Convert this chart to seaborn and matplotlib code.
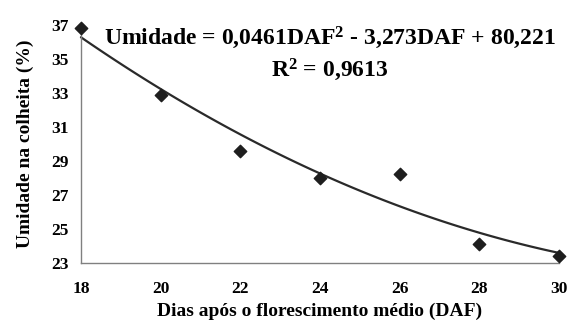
import matplotlib
matplotlib.use("Agg")
import matplotlib.pyplot as plt
import seaborn as sns
import pandas as pd

dias = [18, 20, 22, 24, 26, 28, 30]
umidade = [36.8, 32.9, 29.6, 28.0, 28.2, 24.1, 23.4]
x_ticks = [18, 20, 22, 24, 26, 28, 30]
y_ticks = [23, 25, 27, 29, 31, 33, 35, 37]
equation = r"Umidade = 0,0461DAF$^2$ - 3,273DAF + 80,221"
r2_text = r"R$^2$ = 0,9613"

sns.set_theme(style="white")
plt.rcParams['font.family'] = ['Liberation Serif', 'DejaVu Serif']
plt.rcParams['mathtext.fontset'] = 'custom'
plt.rcParams['mathtext.rm'] = 'Liberation Serif:bold'
plt.rcParams['mathtext.bf'] = 'Liberation Serif:bold'
plt.rcParams['mathtext.default'] = 'bf'
plt.rcParams['text.color'] = 'black'
plt.rcParams['axes.labelcolor'] = 'black'
plt.rcParams['xtick.color'] = 'black'
plt.rcParams['ytick.color'] = 'black'

df = pd.DataFrame({"dias": dias, "umidade": umidade})

fig = plt.figure(figsize=(5.7, 3.27), dpi=100)
ax = fig.add_axes([0.142, 0.196, 0.839, 0.728])

sns.regplot(data=df, x="dias", y="umidade", order=2, ci=None, ax=ax, marker="D",
            scatter_kws=dict(s=40, color="#1e1e1e", edgecolors="#1e1e1e", alpha=1, zorder=3),
            line_kws=dict(color="#2a2a2a", lw=1.6))

ax.set_xlim(18, 30)
ax.set_ylim(23, 37)
ax.set_xticks(x_ticks)
ax.set_yticks(y_ticks)
ax.set_xticklabels([str(v) for v in x_ticks], fontsize=12.5, fontweight='bold')
ax.set_yticklabels([str(v) for v in y_ticks], fontsize=12.5, fontweight='bold')
ax.set_xlabel("Dias após o florescimento médio (DAF)", fontsize=14, fontweight='bold', labelpad=4)
ax.set_ylabel("Umidade na colheita (%)", fontsize=14, fontweight='bold', labelpad=12)

for s in ["top", "right"]:
    ax.spines[s].set_visible(False)
for s in ["left", "bottom"]:
    ax.spines[s].set_color("#808080")
    ax.spines[s].set_linewidth(1.0)
ax.tick_params(axis='both', direction='out', length=4, width=1, color="#808080")
ax.tick_params(axis='x', pad=9)
ax.tick_params(axis='y', pad=5)
for c in ax.collections:
    c.set_clip_on(False)
for l in ax.lines:
    l.set_clip_on(False)

fig.text(0.579, 0.884, equation, fontsize=17, fontweight='bold', ha='center', va='center')
fig.text(0.579, 0.786, r2_text, fontsize=17, fontweight='bold', ha='center', va='center')

fig.savefig("out.png", dpi=100, facecolor="white")
